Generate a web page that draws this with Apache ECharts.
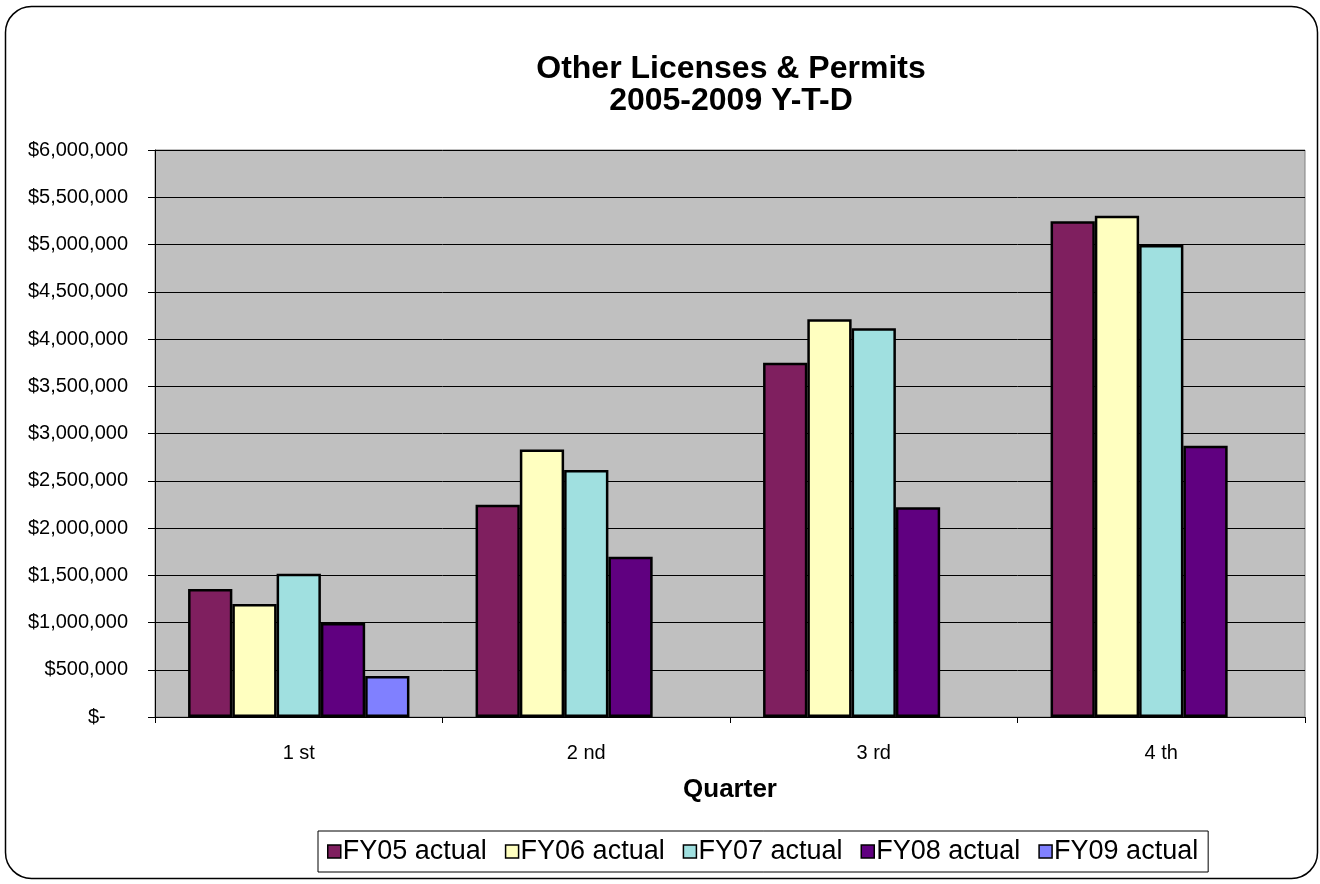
<!DOCTYPE html>
<html>
<head>
<meta charset="utf-8">
<title>Other Licenses & Permits</title>
<script src="https://cdn.jsdelivr.net/npm/echarts@6/dist/echarts.min.js"></script>
<style>
  html, body { margin: 0; padding: 0; background: #fff; }
  #main { width: 1320px; height: 884px; }
</style>
</head>
<body>
<div id="main"></div>
<script>
// 数据（从图上读出来的估计值）
let quarters = ['1 st', '2 nd', '3 rd', '4 th']
let fy05 = [1355000, 2245000, 3750000, 5245000]
let fy06 = [1195000, 2830000, 4210000, 5305000]
let fy07 = [1515000, 2615000, 4115000, 4995000]
let fy08 = [995000, 1695000, 2220000, 2870000]
let fy09 = [435000, null, null, null]

let seriesNames = ['FY05 actual', 'FY06 actual', 'FY07 actual', 'FY08 actual', 'FY09 actual']
let seriesData = [fy05, fy06, fy07, fy08, fy09]
let colors = ['#7f1f5f', '#ffffc0', '#a0e0e0', '#600080', '#8080ff']

let font = 'Liberation Sans, Arial, sans-serif'

function money(v) {
  if (v === 0) return '$-    '
  return '$' + v.toLocaleString('en-US')
}

let series = seriesNames.map((name, i) => ({
  name: name,
  type: 'bar',
  data: seriesData[i],
  barGap: '0%',
  barCategoryGap: '23%',
  itemStyle: { color: colors[i], borderColor: '#000', borderWidth: 2.5 }
}))

let option = {
  animation: false,
  textStyle: { fontFamily: font },
  // 外框（圆角）
  graphic: [{
    type: 'rect',
    shape: { x: 5.5, y: 6.5, width: 1312, height: 872, r: 26 },
    style: { fill: 'none', stroke: '#000', lineWidth: 1.5 },
    silent: true
  }],
  title: {
    text: 'Other Licenses & Permits\n2005-2009 Y-T-D',
    left: 731,
    top: 53,
    padding: 0,
    textAlign: 'center',
    textStyle: { fontSize: 32, fontWeight: 'bold', color: '#000', lineHeight: 32, fontFamily: font }
  },
  legend: {
    data: seriesNames,
    left: 318,
    top: 831,
    padding: [7, 10, 7, 9],
    itemWidth: 13,
    itemHeight: 13,
    itemGap: 18,
    icon: 'rect',
    borderColor: '#000',
    borderWidth: 1,
    backgroundColor: '#fff',
    itemStyle: { borderColor: '#000', borderWidth: 1.5 },
    textStyle: { fontSize: 27, color: '#000', fontFamily: font, padding: [2, 0, 0, -3] }
  },
  grid: {
    left: 155,
    right: 15,
    top: 150,
    bottom: 167,
    show: true,
    backgroundColor: '#c0c0c0',
    borderColor: '#808080',
    borderWidth: 1
  },
  xAxis: {
    type: 'category',
    data: quarters,
    name: 'Quarter',
    nameLocation: 'middle',
    nameGap: 60,
    nameTextStyle: { fontSize: 26, fontWeight: 'bold', color: '#000', fontFamily: font },
    axisLine: { lineStyle: { color: '#000', width: 1 } },
    axisTick: { show: true, length: 6, lineStyle: { color: '#000' } },
    axisLabel: { margin: 26, fontSize: 20, color: '#000', fontFamily: font }
  },
  yAxis: {
    type: 'value',
    min: 0,
    max: 6000000,
    interval: 500000,
    axisLine: { show: true, lineStyle: { color: '#000', width: 1 } },
    axisTick: { show: true, length: 7, lineStyle: { color: '#000' } },
    axisLabel: { margin: 27, fontSize: 20, color: '#000', fontFamily: font, formatter: money },
    splitLine: { show: true, lineStyle: { color: '#000', width: 1 } }
  },
  series: series
}

let myChart = echarts.init(document.getElementById('main'))
myChart.setOption(option)
</script>
</body>
</html>
